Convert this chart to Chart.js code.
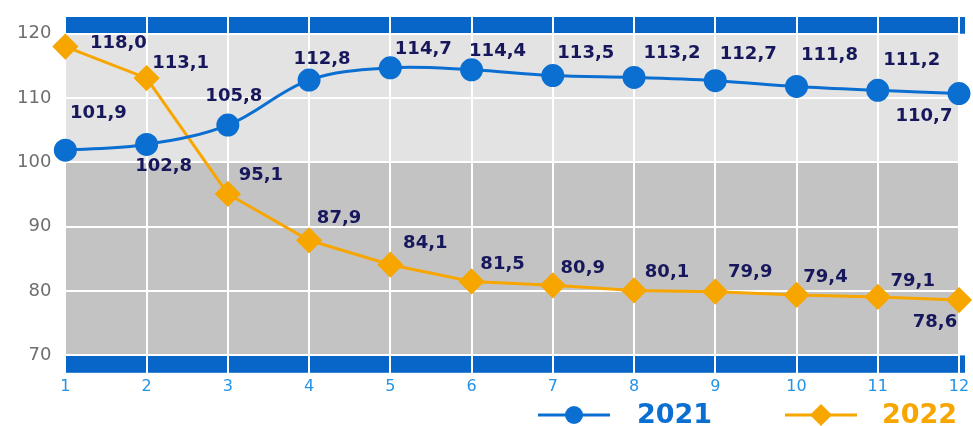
<!DOCTYPE html>
<html>
<head>
<meta charset="utf-8">
<script src="https://cdn.jsdelivr.net/npm/chart.js@4"></script>
<style>
  html, body { margin: 0; padding: 0; background: #fff; }
  #wrap { width: 973px; height: 426px; }
</style>
</head>
<body>
<div id="wrap"><canvas id="chart" width="973" height="426"></canvas></div>
<script>
const months = ['1', '2', '3', '4', '5', '6', '7', '8', '9', '10', '11', '12'];
const values2021 = [101.9, 102.8, 105.8, 112.8, 114.7, 114.4, 113.5, 113.2, 112.7, 111.8, 111.2, 110.7];
const values2022 = [118.0, 113.1, 95.1, 87.9, 84.1, 81.5, 80.9, 80.1, 79.9, 79.4, 79.1, 78.6];
const yTicks = [70, 80, 90, 100, 110, 120];

// label offsets (px) from each point
const offsets2021 = [[33, -37], [17, 22], [6, -29], [13, -21], [33, -19], [26, -18], [33, -22], [38, -24], [33, -26], [33, -31], [34, -30], [-35, 23]];
const offsets2022 = [[53, -3], [34, -15], [33, -19], [30, -22], [35, -21], [31, -17], [30, -17], [33, -18], [35, -19], [29, -18], [35, -16], [-24, 22]];

const BLUE = '#0b6fd1';
const ORANGE = '#f7a600';

// shaded zones and blue bands behind the grid
const backgroundPlugin = {
    id: 'zones',
    beforeDraw(chart) {
        const { ctx, chartArea: a, scales: { y } } = chart;
        ctx.save();
        ctx.fillStyle = '#e3e3e3';
        ctx.fillRect(a.left, y.getPixelForValue(120), a.right - a.left, y.getPixelForValue(100) - y.getPixelForValue(120));
        ctx.fillStyle = '#c4c3c4';
        ctx.fillRect(a.left, y.getPixelForValue(100), a.right - a.left, y.getPixelForValue(70) - y.getPixelForValue(100));
        ctx.fillStyle = '#0866c9';
        ctx.fillRect(a.left, a.top, a.right - a.left + 6, y.getPixelForValue(120) - a.top);
        ctx.fillRect(a.left, y.getPixelForValue(70), a.right - a.left + 6, a.bottom - y.getPixelForValue(70));
        ctx.restore();
    }
};

// value labels next to points
const labelPlugin = {
    id: 'valueLabels',
    afterDatasetsDraw(chart) {
        const ctx = chart.ctx;
        const offs = [offsets2021, offsets2022];
        ctx.save();
        ctx.font = 'bold 18px "DejaVu Sans"';
        ctx.fillStyle = '#17175c';
        ctx.textAlign = 'center';
        ctx.textBaseline = 'middle';
        chart.data.datasets.forEach((ds, di) => {
            chart.getDatasetMeta(di).data.forEach((pt, i) => {
                const [dx, dy] = offs[di][i];
                ctx.fillText(ds.data[i].toFixed(1).replace('.', ','), pt.x + dx, pt.y + dy);
            });
        });
        ctx.restore();
    }
};

// legend at bottom right: line + marker + year
const legendPlugin = {
    id: 'bottomLegend',
    afterDraw(chart) {
        const ctx = chart.ctx;
        const yc = 415;
        const items = [
            { x: 538, color: BLUE, text: '2021', shape: 'circle', tx: 637 },
            { x: 785, color: ORANGE, text: '2022', shape: 'diamond', tx: 882 }
        ];
        ctx.save();
        items.forEach(it => {
            ctx.strokeStyle = it.color;
            ctx.lineWidth = 3;
            ctx.beginPath();
            ctx.moveTo(it.x, yc);
            ctx.lineTo(it.x + 72, yc);
            ctx.stroke();
            ctx.fillStyle = it.color;
            const cx = it.x + 36;
            ctx.beginPath();
            if (it.shape === 'circle') {
                ctx.arc(cx, yc, 9, 0, Math.PI * 2);
            } else {
                ctx.moveTo(cx, yc - 11);
                ctx.lineTo(cx + 11, yc);
                ctx.lineTo(cx, yc + 11);
                ctx.lineTo(cx - 11, yc);
                ctx.closePath();
            }
            ctx.fill();
            ctx.font = 'bold 27px "DejaVu Sans"';
            ctx.textAlign = 'left';
            ctx.textBaseline = 'middle';
            ctx.fillText(it.text, it.tx, yc + 1);
        });
        ctx.restore();
    }
};

new Chart(document.getElementById('chart'), {
    type: 'line',
    data: {
        labels: months,
        datasets: [
            {
                label: '2021',
                data: values2021,
                borderColor: BLUE,
                backgroundColor: BLUE,
                borderWidth: 3,
                pointStyle: 'circle',
                pointRadius: 10,
                pointHoverRadius: 10,
                tension: 0.35
            },
            {
                label: '2022',
                data: values2022,
                borderColor: ORANGE,
                backgroundColor: ORANGE,
                borderWidth: 3,
                pointStyle: 'rectRot',
                pointRadius: 11,
                pointHoverRadius: 11,
                tension: 0
            }
        ]
    },
    options: {
        responsive: false,
        animation: false,
        layout: { padding: { top: 17, bottom: 26, left: 3, right: 6 } },
        plugins: {
            legend: { display: false },
            tooltip: { enabled: false }
        },
        scales: {
            x: {
                offset: false,
                afterFit: (scale) => { scale.paddingRight = 0; },
                grid: { color: '#ffffff', lineWidth: 2, drawTicks: false },
                border: { display: false },
                ticks: {
                    color: '#2593e6',
                    font: { family: 'DejaVu Sans', size: 16 },
                    padding: 4,
                    maxRotation: 0
                }
            },
            y: {
                min: 67.3,
                max: 122.6,
                afterBuildTicks: (scale) => { scale.ticks = yTicks.map(v => ({ value: v })); },
                afterFit: (scale) => { scale.paddingTop = 0; scale.paddingBottom = 0; },
                grid: { color: '#ffffff', lineWidth: 2, drawTicks: false },
                border: { display: false },
                ticks: {
                    color: '#6e6e6e',
                    font: { family: 'DejaVu Sans', size: 18 },
                    padding: 14
                }
            }
        }
    },
    plugins: [backgroundPlugin, labelPlugin, legendPlugin]
});
</script>
</body>
</html>
